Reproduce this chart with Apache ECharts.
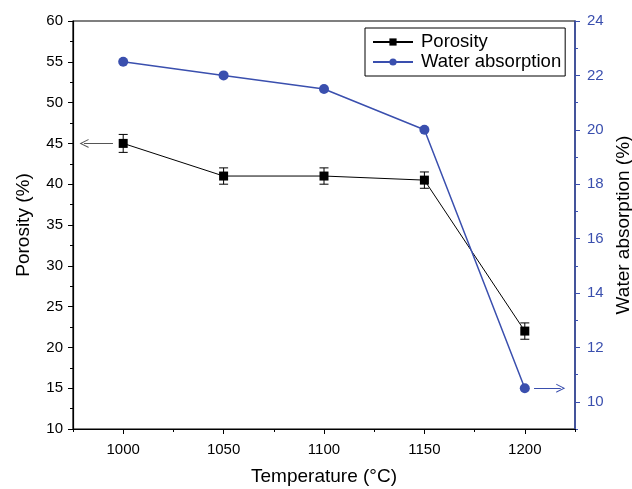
<!DOCTYPE html>
<html>
<head>
<meta charset="utf-8">
<script src="https://cdn.jsdelivr.net/npm/echarts@6/dist/echarts.min.js"></script>
<style>html,body{margin:0;padding:0;background:#fff}#c{width:632px;height:489px}</style>
</head>
<body>
<div id="c"></div>
<script>
var temperatures = [1000, 1050, 1100, 1150, 1200];
var porosity = [45, 41, 41, 40.5, 22];
var porosityErr = [1.1, 1.0, 1.0, 1.0, 1.0];
var waterAbsorption = [22.5, 22, 21.5, 20, 10.5];
var xMajorTicks = [1000, 1050, 1100, 1150, 1200];
var xMinorTicks = [975, 1025, 1075, 1125, 1175, 1225];
var rightMajorTicks = [10, 12, 14, 16, 18, 20, 22, 24];
var rightMinorTicks = [9, 11, 13, 15, 17, 19, 21, 23];
var porosityArrow = [[994.9, 45], [980.5, 45]];
var waterArrow = [[1204.6, 10.5], [1217.9, 10.5]];

var FONT = "'Liberation Sans', Arial, sans-serif";
var BLUE = '#3a4fae';
var ARROW = 'path://M0,10 L5,0 L10,10 L8.8,10 L5,2.4 L1.2,10 Z';

var chart = echarts.init(document.getElementById('c'), null, {renderer: 'canvas'});
var porData = temperatures.map(function (t, i) { return [t, porosity[i]]; });
var watData = temperatures.map(function (t, i) { return [t, waterAbsorption[i]]; });
var errData = temperatures.map(function (t, i) { return [t, porosity[i], porosityErr[i]]; });

var option = {
  backgroundColor: '#fff',
  animation: false,
  textStyle: {fontFamily: FONT},
  grid: {left: 73, right: 57, top: 21, bottom: 60, outerBoundsMode: 'none', containLabel: false,
         show: true, borderColor: '#000', borderWidth: 1.2, backgroundColor: 'transparent'},
  legend: {
    left: 365, top: 28, orient: 'vertical',
    borderColor: '#000', borderWidth: 1, padding: [4, 4, 4, 7],
    itemWidth: 40, itemHeight: 9, itemGap: 0,
    textStyle: {fontSize: 18.5, lineHeight: 20, color: '#000', fontFamily: FONT, padding: [0, 0, 0, 3]},
    data: ['Porosity', 'Water absorption']
  },
  xAxis: [{
    type: 'value', min: 975, max: 1225, interval: 25, position: 'bottom',
    name: 'Temperature (°C)', nameLocation: 'middle', nameGap: 38,
    nameTextStyle: {fontSize: 19, color: '#000', fontFamily: FONT},
    axisLine: {show: true, lineStyle: {color: '#000', width: 1.2}},
    axisTick: {show: true, inside: false, length: 5, customValues: xMajorTicks, lineStyle: {color: '#000'}},
    axisLabel: {show: true, customValues: xMajorTicks, fontSize: 15, color: '#000', margin: 13, fontFamily: FONT,
                formatter: function (v) { return String(v); }},
    splitLine: {show: false}
  }, {
    type: 'value', min: 975, max: 1225, interval: 25, position: 'bottom', offset: 0,
    axisLine: {show: false},
    axisTick: {show: true, inside: false, length: 3, customValues: xMinorTicks, lineStyle: {color: '#000'}},
    axisLabel: {show: false},
    splitLine: {show: false}
  }],
  yAxis: [{
    type: 'value', min: 10, max: 60, interval: 5, position: 'left',
    name: 'Porosity (%)', nameLocation: 'middle', nameGap: 40, nameRotate: 90,
    nameTextStyle: {fontSize: 19, color: '#000', fontFamily: FONT},
    axisLine: {show: true, lineStyle: {color: '#000', width: 1.2}},
    axisTick: {show: true, inside: false, length: 5, lineStyle: {color: '#000'}},
    minorTick: {show: true, splitNumber: 2, length: 3, lineStyle: {color: '#000'}},
    axisLabel: {fontSize: 15, color: '#000', margin: 10, fontFamily: FONT},
    splitLine: {show: false}
  }, {
    type: 'value', min: 9, max: 24, interval: 1, position: 'right',
    name: 'Water absorption (%)', nameLocation: 'middle', nameGap: 39, nameRotate: 90,
    nameTextStyle: {fontSize: 19, color: '#000', fontFamily: FONT},
    axisLine: {show: true, lineStyle: {color: BLUE, width: 1.5}},
    axisTick: {show: true, inside: false, length: 5, customValues: rightMajorTicks, lineStyle: {color: BLUE}},
    axisLabel: {show: true, customValues: rightMajorTicks, fontSize: 15, color: BLUE, margin: 12, fontFamily: FONT},
    splitLine: {show: false}
  }, {
    type: 'value', min: 9, max: 24, interval: 1, position: 'right', offset: 0,
    axisLine: {show: false},
    axisTick: {show: true, inside: false, length: 3, customValues: rightMinorTicks, lineStyle: {color: BLUE}},
    axisLabel: {show: false},
    splitLine: {show: false}
  }],
  series: [{
    name: 'Porosity', type: 'line', xAxisIndex: 0, yAxisIndex: 0,
    data: porData, symbol: 'rect', symbolSize: 9,
    itemStyle: {color: '#000'}, lineStyle: {color: '#000', width: 1}, z: 5,
    markLine: {
      silent: true, symbol: ['none', ARROW], symbolSize: [9, 9],
      lineStyle: {color: '#555', width: 1, type: 'solid'}, label: {show: false},
      data: [[{coord: porosityArrow[0]}, {coord: porosityArrow[1]}]]
    }
  }, {
    name: 'Porosity err', type: 'custom', xAxisIndex: 0, yAxisIndex: 0,
    data: errData, z: 4,
    renderItem: function (params, api) {
      var x = api.value(0), y = api.value(1), e = api.value(2);
      var top = api.coord([x, y + e]);
      var bot = api.coord([x, y - e]);
      var hw = 4.5;
      var st = {stroke: '#000', lineWidth: 1};
      return {type: 'group', children: [
        {type: 'line', shape: {x1: top[0], y1: top[1], x2: bot[0], y2: bot[1]}, style: st},
        {type: 'line', shape: {x1: top[0] - hw, y1: top[1], x2: top[0] + hw, y2: top[1]}, style: st},
        {type: 'line', shape: {x1: bot[0] - hw, y1: bot[1], x2: bot[0] + hw, y2: bot[1]}, style: st}
      ]};
    }
  }, {
    name: 'Water absorption', type: 'line', xAxisIndex: 0, yAxisIndex: 1,
    data: watData, symbol: 'circle', symbolSize: 10,
    itemStyle: {color: BLUE}, lineStyle: {color: BLUE, width: 1.5}, z: 5,
    markLine: {
      silent: true, symbol: ['none', ARROW], symbolSize: [9, 9],
      lineStyle: {color: BLUE, width: 1, type: 'solid'}, label: {show: false},
      data: [[{coord: waterArrow[0]}, {coord: waterArrow[1]}]]
    }
  }]
};
chart.setOption(option);
</script>
</body>
</html>
